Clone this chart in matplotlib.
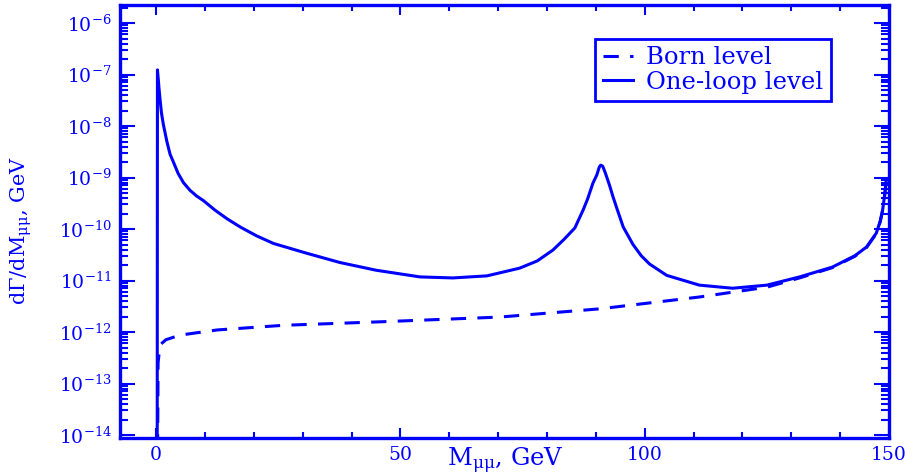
"""
Muon pair invariant mass spectrum: Born vs one-loop
"""
import numpy as np
import matplotlib
matplotlib.use('Agg')
import matplotlib.pyplot as plt
from matplotlib.ticker import FixedLocator, NullFormatter, MultipleLocator

plt.rcParams['font.family'] = ['DejaVu Serif']
plt.rcParams['mathtext.fontset'] = 'dejavuserif'
plt.rcParams['axes.unicode_minus'] = False

BLUE = '#0000ff'

# One-loop level, values (M in GeV, log10 of dGamma/dM)
loop_m = [0.2113, 0.27, 0.45, 0.6, 0.82, 1.1, 1.5, 2.2, 2.86, 3.54, 4.5,
          5.6, 6.95, 8.3, 9.7, 12.0, 14.5, 17.2, 20.5, 24.0, 30.8, 37.6,
          45.0, 54.0, 60.7, 67.7, 74.4, 78.0, 81.2, 83.5, 85.7, 87.4, 88.3,
          89.4, 90.2, 90.7, 91.0, 91.4, 91.9, 92.8, 93.5, 94.2, 95.6, 97.6,
          99.3, 101.0, 104.5, 111.2, 118.0, 125.0, 131.7, 138.4, 143.0,
          145.4, 147.4, 148.2, 148.7, 149.1, 149.4]
loop_log = [-16.0, -6.91, -7.10, -7.28, -7.50, -7.75, -7.98, -8.30, -8.55,
            -8.70, -8.92, -9.10, -9.25, -9.36, -9.45, -9.63, -9.80, -9.96,
            -10.13, -10.28, -10.47, -10.65, -10.80, -10.93, -10.95, -10.91,
            -10.76, -10.62, -10.41, -10.20, -9.98, -9.63, -9.42, -9.11,
            -8.95, -8.80, -8.76, -8.78, -8.90, -9.15, -9.37, -9.57, -9.96,
            -10.30, -10.52, -10.68, -10.90, -11.09, -11.15, -11.09, -10.93,
            -10.74, -10.52, -10.35, -10.08, -9.85, -9.63, -9.35, -9.08]

# Born level
born_m = [0.2113, 0.4, 0.8, 2.0, 4.9, 12.5, 26.0, 46.4, 70.3, 90.8, 111.2,
          125.0, 131.7, 138.4, 143.0, 145.4, 147.4, 148.2, 148.7, 149.1, 149.4]
born_log = [-16.0, -12.6, -12.25, -12.15, -12.06, -11.96, -11.87, -11.80,
            -11.71, -11.55, -11.32, -11.13, -10.95, -10.75, -10.53, -10.36,
            -10.09, -9.86, -9.64, -9.36, -9.10]

ytick_vals = [1e-14, 1e-13, 1e-12, 1e-11, 1e-10, 1e-9, 1e-8, 1e-7, 1e-6]

fig = plt.figure(figsize=(9.13, 4.75), dpi=100)
ax = fig.add_axes([0.1314, 0.0779, 0.8423, 0.9116])

ax.plot(born_m, 10.0 ** np.array(born_log), color=BLUE, linewidth=2.2,
        dashes=(5, 3.7), label='Born level')
ax.plot(loop_m, 10.0 ** np.array(loop_log), color=BLUE, linewidth=2.2,
        label='One-loop level')

ax.set_yscale('log')
ax.set_xlim(-7.4, 150)
ax.set_ylim(10 ** -14.058, 10 ** -5.65)

ax.xaxis.set_major_locator(MultipleLocator(50))
ax.xaxis.set_minor_locator(MultipleLocator(10))
ax.yaxis.set_major_locator(FixedLocator(ytick_vals))
minors = [m * v for v in ytick_vals[:-1] for m in range(2, 10)]
minors += [2e-6]
ax.yaxis.set_minor_locator(FixedLocator(minors))
ax.yaxis.set_minor_formatter(NullFormatter())

for s in ax.spines.values():
    s.set_color(BLUE)
    s.set_linewidth(2.4)

ax.tick_params(axis='both', which='both', direction='in', top=True, right=True,
               colors=BLUE, labelsize=13.5, width=1.5, pad=6)
ax.tick_params(axis='y', which='major', length=11)
ax.tick_params(axis='y', which='minor', length=6)
ax.tick_params(axis='x', which='major', length=7.5)
ax.tick_params(axis='x', which='minor', length=4.5)

ax.set_xlabel('M$_{\\mathregular{μμ}}$, GeV', fontsize=17.5, color=BLUE)
ax.xaxis.set_label_coords(0.501, -0.018)
ax.set_ylabel('dΓ/dM$_{\\mathregular{μμ}}$, GeV', fontsize=15, color=BLUE)
ax.yaxis.set_label_coords(-0.112, 0.48)

leg = ax.legend(loc='upper left', bbox_to_anchor=(0.618, 0.921),
                borderaxespad=0, fontsize=17.5, fancybox=False, framealpha=1,
                edgecolor=BLUE, handlelength=1.25, handletextpad=0.55,
                labelspacing=0.05, borderpad=0.3)
leg.get_frame().set_linewidth(2)
for t in leg.get_texts():
    t.set_color(BLUE)

plt.savefig('out.png', dpi=100)
